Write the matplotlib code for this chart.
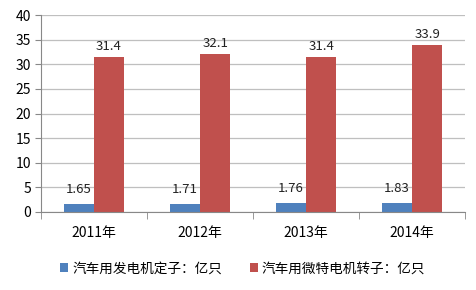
import numpy as np
import matplotlib
matplotlib.use('Agg')
import matplotlib.pyplot as plt

plt.rcParams['font.family'] = ['Noto Sans CJK SC', 'DejaVu Sans']

years = ['2011年', '2012年', '2013年', '2014年']
stator = [1.65, 1.71, 1.76, 1.83]
rotor = [31.4, 32.1, 31.4, 33.9]
names = ['汽车用发电机定子：亿只', '汽车用微特电机转子：亿只']

fig = plt.figure(figsize=(4.76, 2.90), dpi=100)
ax = fig.add_axes([0.086, 0.269, 0.891, 0.679])

x = np.arange(len(years))
w = 0.285
b1 = ax.bar(x - w / 2, stator, w, color='#4F81BD', label=names[0])
b2 = ax.bar(x + w / 2, rotor, w, color='#C0504D', label=names[1])

for rect, v in zip(b1, stator):
    ax.text(rect.get_x() + rect.get_width() / 2, v + 1.6, f'{v:.2f}',
            ha='center', va='bottom', fontsize=9.5, color='#222222')
for rect, v in zip(b2, rotor):
    ax.text(rect.get_x() + rect.get_width() / 2, v + 0.9, f'{v:.1f}',
            ha='center', va='bottom', fontsize=9.5, color='#222222')

ax.set_xlim(-0.5, 3.5)
ax.set_ylim(0, 40)
ax.set_yticks(range(0, 41, 5))
ax.set_xticks(x)
ax.set_xticklabels(years)
ax.set_xticks(np.arange(-0.5, 4, 1), minor=True)
ax.tick_params(axis='x', which='major', length=0, pad=10, labelsize=10)
ax.tick_params(axis='x', which='minor', length=5, color='#888888')
ax.tick_params(axis='y', length=4, color='#888888', labelsize=10, pad=3)

ax.yaxis.grid(True, color='#BFBFBF', linewidth=0.9)
ax.set_axisbelow(True)
for s in ['top', 'right']:
    ax.spines[s].set_visible(False)
for s in ['left', 'bottom']:
    ax.spines[s].set_color('#888888')

fig.legend(handles=[b1, b2], loc='center', bbox_to_anchor=(0.51, 0.075), ncol=2,
           frameon=False, fontsize=9.8, handlelength=0.6, handleheight=0.6,
           handletextpad=0.3, columnspacing=2.0)

plt.savefig('out.png', dpi=100)
